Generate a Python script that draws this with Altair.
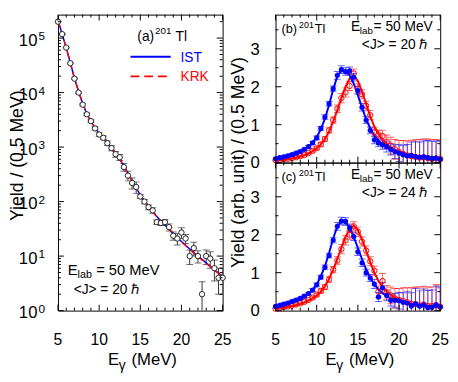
import altair as alt
import pandas as pd

FONT = "Liberation Sans"

E = [5.0, 5.5, 6.0, 6.5, 7.0, 7.5, 8.0, 8.5, 9.0, 9.5, 10.0, 10.5, 11.0, 11.5,
     12.0, 12.5, 13.0, 13.5, 14.0, 14.5, 15.0, 15.5, 16.0, 16.5, 17.0, 17.5,
     18.0, 18.5, 19.0, 19.5, 20.0, 20.5, 21.0, 21.5, 22.0, 22.5, 23.0, 23.5,
     24.0, 24.5, 25.0]

# ---- panel (a): spectrum, log scale
yield_a = [2.0e5, 1.18e5, 6.7e4, 3.45e4, 1.8e4, 1.0e4, 6.0e3, 4.0e3, 3.0e3, 2.2e3,
           1.7e3, 1.48e3, 1.18e3, 960, 740, 650, 430, 300, 220, 185,
           124, 100, 79, 69, 42, 40.5, 42, 34, 23.6, 21,
           27, 21, 10, 14, 10, 2.0, 10, 9, 6, 4, 4]
err_a = [2000, 1500, 1000, 700, 500, 350, 250, 200, 170, 150,
         130, 120, 110, 100, 90, 80, 70, 60, 50, 45,
         10, 9, 8, 8, 4, 4, 5, 5, 4, 5,
         6, 4, 3, 4, 2.5, 1.4, 3, 3, 2.5, 2, 2]
fit_ist_a = [2.1e5, 1.2e5, 6.6e4, 3.5e4, 1.85e4, 1.05e4, 6.3e3, 4.1e3, 2.95e3, 2.25e3,
             1.8e3, 1.48e3, 1.2e3, 970, 770, 600, 450, 330, 240, 178,
             132, 102, 81, 65, 53, 44, 37, 31, 26, 22,
             18.5, 15.8, 13.5, 11.6, 10.0, 8.7, 7.5, 6.5, 5.6, 4.9, 4.3]
fit_krk_a = [2.1e5, 1.2e5, 6.6e4, 3.5e4, 1.85e4, 1.05e4, 6.3e3, 4.1e3, 2.95e3, 2.25e3,
             1.8e3, 1.47e3, 1.2e3, 965, 765, 600, 452, 332, 242, 180,
             133, 103, 82, 66, 53, 44, 37, 31, 26, 21.8,
             18.3, 15.6, 13.3, 11.4, 9.8, 8.5, 7.4, 6.4, 5.5, 4.8, 4.2]

# ---- panel (b): <J> = 20
ist_b = [0.10, 0.13, 0.15, 0.18, 0.21, 0.25, 0.29, 0.35, 0.42,
         0.52, 0.65, 0.90, 1.20, 1.55, 1.95,
         2.30, 2.45, 2.40, 2.42, 2.25,
         1.90, 1.46, 1.12, 0.85,
         0.60, 0.52, 0.47, 0.42,
         0.35, 0.29, 0.25, 0.21,
         0.18, 0.19, 0.16, 0.14, 0.15, 0.13, 0.11, 0.12, 0.09]
ist_b_err = [0.03, 0.03, 0.03, 0.03, 0.03, 0.03, 0.03, 0.03, 0.03,
             0.04, 0.05, 0.05, 0.06, 0.06, 0.07,
             0.10, 0.10, 0.10, 0.10, 0.10,
             0.10, 0.10, 0.09, 0.09,
             0.10, 0.10, 0.12, 0.14,
             0.15, 0.18, 0.22, 0.25,
             0.30, 0.35, 0.40, 0.40, 0.42, 0.45, 0.45, 0.45, 0.48]
krk_b = [0.06, 0.07, 0.09, 0.10, 0.12, 0.14, 0.17, 0.20, 0.25,
         0.31, 0.38, 0.48, 0.62, 0.85, 1.12,
         1.42, 1.70, 1.85, 2.02, 2.35,
         1.95, 1.80, 1.50, 1.25,
         0.80, 0.74, 0.70, 0.55,
         0.45, 0.35, 0.28, 0.23,
         0.19, 0.17, 0.15, 0.13, 0.14, 0.12, 0.10, 0.11, 0.09]
krk_b_err = [0.02, 0.02, 0.02, 0.02, 0.02, 0.02, 0.02, 0.02, 0.02,
             0.03, 0.04, 0.05, 0.06, 0.07, 0.08,
             0.10, 0.12, 0.12, 0.12, 0.12,
             0.12, 0.12, 0.12, 0.12,
             0.12, 0.12, 0.15, 0.18,
             0.22, 0.26, 0.30, 0.35,
             0.38, 0.42, 0.45, 0.48, 0.48, 0.50, 0.50, 0.50, 0.50]
fit_ist_b = [0.10, 0.12, 0.14, 0.17, 0.20, 0.24, 0.29, 0.35, 0.43,
             0.53, 0.67, 0.88, 1.16, 1.52, 1.93,
             2.28, 2.44, 2.41, 2.30, 2.08,
             1.78, 1.45, 1.15, 0.90,
             0.71, 0.58, 0.48, 0.40,
             0.34, 0.29, 0.25, 0.22,
             0.19, 0.17, 0.15, 0.14, 0.13, 0.12, 0.11, 0.10, 0.09]
fit_krk_b = [0.05, 0.06, 0.08, 0.09, 0.11, 0.13, 0.16, 0.19, 0.24,
             0.30, 0.38, 0.48, 0.62, 0.82, 1.08,
             1.38, 1.70, 2.00, 2.22, 2.30,
             2.15, 1.88, 1.55, 1.22,
             0.95, 0.76, 0.60, 0.49,
             0.40, 0.33, 0.28, 0.24,
             0.21, 0.18, 0.16, 0.14, 0.13, 0.12, 0.11, 0.10, 0.09]

# ---- panel (c): <J> = 24
ist_c = [0.11, 0.14, 0.17, 0.20, 0.24, 0.28, 0.32, 0.38, 0.45,
         0.54, 0.68, 0.88, 1.14, 1.45, 1.86,
         2.22, 2.36, 2.35, 2.18, 1.95,
         1.55, 1.26, 1.00, 0.86,
         0.70, 0.36, 0.60, 0.40,
         0.27, 0.27, 0.26, 0.22,
         0.20, 0.12, 0.18, 0.12, 0.15, 0.08, 0.09, 0.15, 0.10]
ist_c_err = [0.03, 0.03, 0.03, 0.03, 0.03, 0.03, 0.03, 0.03, 0.03,
             0.04, 0.05, 0.05, 0.06, 0.06, 0.07,
             0.10, 0.10, 0.10, 0.10, 0.10,
             0.10, 0.10, 0.09, 0.09,
             0.12, 0.12, 0.14, 0.14,
             0.15, 0.18, 0.22, 0.25,
             0.30, 0.35, 0.40, 0.40, 0.42, 0.45, 0.45, 0.50, 0.50]
krk_c = [0.05, 0.07, 0.09, 0.11, 0.13, 0.16, 0.19, 0.23, 0.28,
         0.34, 0.42, 0.52, 0.62, 0.82, 1.08,
         1.32, 1.62, 1.85, 2.00, 2.22,
         2.08, 1.82, 1.58, 1.30,
         1.05, 0.50, 0.78, 0.48,
         0.40, 0.32, 0.28, 0.25,
         0.22, 0.18, 0.17, 0.14, 0.16, 0.12, 0.12, 0.14, 0.10]
krk_c_err = [0.02, 0.02, 0.02, 0.02, 0.02, 0.02, 0.02, 0.02, 0.02,
             0.03, 0.04, 0.05, 0.06, 0.07, 0.08,
             0.10, 0.12, 0.12, 0.12, 0.12,
             0.12, 0.12, 0.12, 0.12,
             0.12, 0.15, 0.20, 0.18,
             0.22, 0.26, 0.30, 0.35,
             0.38, 0.42, 0.45, 0.48, 0.48, 0.50, 0.50, 0.55, 0.55]
fit_ist_c = [0.11, 0.13, 0.16, 0.19, 0.22, 0.26, 0.31, 0.37, 0.45,
             0.55, 0.69, 0.90, 1.17, 1.52, 1.90,
             2.22, 2.36, 2.33, 2.18, 1.94,
             1.65, 1.36, 1.09, 0.87,
             0.69, 0.56, 0.46, 0.38,
             0.32, 0.28, 0.24, 0.21,
             0.19, 0.17, 0.15, 0.14, 0.13, 0.12, 0.11, 0.10, 0.10]
fit_krk_c = [0.05, 0.06, 0.08, 0.10, 0.12, 0.14, 0.17, 0.21, 0.26,
             0.32, 0.40, 0.50, 0.64, 0.84, 1.08,
             1.36, 1.66, 1.94, 2.15, 2.24,
             2.12, 1.88, 1.58, 1.28,
             1.00, 0.78, 0.62, 0.50,
             0.41, 0.34, 0.29, 0.25,
             0.22, 0.19, 0.17, 0.15, 0.14, 0.13, 0.12, 0.11, 0.10]

# ---- ticks and labels
x_major = [5, 10, 15, 20, 25]
x_minor = [6, 7, 8, 9, 11, 12, 13, 14, 16, 17, 18, 19, 21, 22, 23, 24]
x_labels = ["5", "10", "15", "20", "25"]
a_decades = [1, 10, 100, 1000, 10000, 100000]
a_exponents = ["0", "1", "2", "3", "4", "5"]
a_top = 10 ** 5.43
a_minor = [m * d for d in a_decades for m in [2, 3, 4, 5, 6, 7, 8, 9] if m * d < a_top]
bc_major = [0, 1, 2, 3]
bc_labels = ["0", "1", "2", "3"]
bc_minor = [0.5, 1.5, 2.5, 3.5]

BLUE = "#0000ff"
RED = "#ff0000"
W = 168
HA = 302
HB = 151

xs = alt.Scale(domain=[5, 25], nice=False, zero=False)
ya = alt.Scale(type="log", domain=[1, a_top], nice=False)
yb = alt.Scale(domain=[0, 3.9], nice=False, zero=False)


def X(f):
    return alt.X(f, type="quantitative", scale=xs, axis=None)


def Y(f, sc):
    return alt.Y(f, type="quantitative", scale=sc, axis=None)


def txt(x, y, s, size=14, color="black", align="left", baseline="alphabetic", angle=0):
    return alt.Chart(pd.DataFrame({"t": [s]})).mark_text(
        align=align, baseline=baseline, fontSize=size, font=FONT, color=color, angle=angle
    ).encode(x=alt.value(x), y=alt.value(y), text="t:N")


def tick_layers(h, ysc, y_major, y_minor):
    out = []
    for vals, L in [(x_major, 6), (x_minor, 3)]:
        b = alt.Chart(pd.DataFrame({"v": vals}))
        out.append(b.mark_rule(color="black", strokeWidth=1).encode(
            x=X("v"), y=alt.value(h), y2=alt.value(h - L)))
        out.append(b.mark_rule(color="black", strokeWidth=1).encode(
            x=X("v"), y=alt.value(0), y2=alt.value(L)))
    for vals, L in [(y_major, 6), (y_minor, 3)]:
        b = alt.Chart(pd.DataFrame({"v": vals}))
        out.append(b.mark_rule(color="black", strokeWidth=1).encode(
            y=Y("v", ysc), x=alt.value(0), x2=alt.value(L)))
        out.append(b.mark_rule(color="black", strokeWidth=1).encode(
            y=Y("v", ysc), x=alt.value(W), x2=alt.value(W - L)))
    return out


def x_tick_labels(h):
    d = pd.DataFrame({"v": x_major, "t": x_labels})
    return alt.Chart(d).mark_text(fontSize=16, font=FONT, align="center", baseline="alphabetic").encode(
        x=X("v"), y=alt.value(h + 35), text="t:N")


def x_title(h):
    return [txt(51, h + 56, "E", 17), txt(62, h + 61, "γ", 14), txt(75, h + 56, "(MeV)", 17)]


# ---------------- panel (a)
df_a = pd.DataFrame({"E": E, "Y": yield_a, "err": err_a})
df_a["lo"] = [max(v - e, 0.3) for v, e in zip(yield_a, err_a)]
df_a["hi"] = [v + e for v, e in zip(yield_a, err_a)]
fa = pd.DataFrame({"E": E, "ist": fit_ist_a, "krk": fit_krk_a})
base_a = alt.Chart(df_a)

layers_a = [
    base_a.mark_rule(color="#333333", strokeWidth=1, clip=True).encode(x=X("E"), y=Y("lo", ya), y2="hi:Q"),
    base_a.mark_tick(color="#333333", orient="horizontal", size=7, thickness=1, clip=True).encode(x=X("E"), y=Y("hi", ya)),
    base_a.mark_tick(color="#333333", orient="horizontal", size=7, thickness=1, clip=True).encode(x=X("E"), y=Y("lo", ya)),
    alt.Chart(fa).mark_line(color=BLUE, strokeWidth=1.5, clip=True).encode(x=X("E"), y=Y("ist", ya)),
    alt.Chart(fa).mark_line(color=RED, strokeWidth=1.5, strokeDash=[7, 4], clip=True).encode(x=X("E"), y=Y("krk", ya)),
    base_a.mark_point(shape="circle", filled=True, fill="white", stroke="#222222", strokeWidth=1,
                      size=30, opacity=1).encode(x=X("E"), y=Y("Y", ya)),
]
layers_a += tick_layers(HA, ya, a_decades, a_minor)
dl = pd.DataFrame({"v": a_decades, "e": a_exponents, "t": ["10"] * 6})
layers_a.append(alt.Chart(dl).mark_text(fontSize=17, font=FONT, align="right", baseline="alphabetic", dy=8).encode(
    x=alt.value(-21), y=Y("v", ya), text="t:N"))
layers_a.append(alt.Chart(dl).mark_text(fontSize=12, font=FONT, align="left", baseline="alphabetic", dy=2).encode(
    x=alt.value(-20), y=Y("v", ya), text="e:N"))
layers_a.append(x_tick_labels(HA))
layers_a += x_title(HA)
layers_a += [
    txt(-41, 144, "Yield / (0.5 MeV)", 18, angle=270, align="center", baseline="middle"),
    txt(81, 27, "(a)", 14), txt(99, 20, "201", 10), txt(120, 27, "Tl", 14),
    alt.Chart(pd.DataFrame({"t": ["IST"]})).mark_rule(color=BLUE, strokeWidth=2).encode(
        x=alt.value(74), x2=alt.value(115), y=alt.value(43)),
    alt.Chart(pd.DataFrame({"t": ["KRK"]})).mark_rule(color=RED, strokeWidth=2, strokeDash=[9, 5]).encode(
        x=alt.value(74), x2=alt.value(115), y=alt.value(63)),
    txt(125, 48.5, "IST", 14, BLUE), txt(125, 68, "KRK", 14, RED),
    txt(10, 265.7, "E", 15), txt(20, 269, "lab", 11), txt(39, 265.7, "= 50 MeV", 15),
    txt(16, 285, "<J> = 20 ℏ", 14),
]
pa = alt.layer(*layers_a).properties(width=W, height=HA)


# ---------------- panels (b), (c)
def gdr_panel(ist, ist_err, krk, krk_err, fit_ist, fit_krk, tag, jval, xlabels):
    d = pd.DataFrame({"E": E, "ist": ist, "krk": krk})
    d["ist_lo"] = [v - e for v, e in zip(ist, ist_err)]
    d["ist_hi"] = [v + e for v, e in zip(ist, ist_err)]
    d["krk_lo"] = [v - e for v, e in zip(krk, krk_err)]
    d["krk_hi"] = [v + e for v, e in zip(krk, krk_err)]
    f = pd.DataFrame({"E": E, "ist": fit_ist, "krk": fit_krk})
    b = alt.Chart(d)
    L = []
    for col, c in [("krk", RED), ("ist", BLUE)]:
        L.append(b.mark_rule(color=c, strokeWidth=1, opacity=0.6, clip=True).encode(
            x=X("E"), y=Y(col + "_lo", yb), y2=col + "_hi:Q"))
        L.append(b.mark_tick(color=c, orient="horizontal", size=7, thickness=1, opacity=0.6, clip=True).encode(
            x=X("E"), y=Y(col + "_hi", yb)))
        L.append(b.mark_tick(color=c, orient="horizontal", size=7, thickness=1, opacity=0.6, clip=True).encode(
            x=X("E"), y=Y(col + "_lo", yb)))
    L.append(alt.Chart(f).mark_line(color=RED, strokeWidth=2, clip=True).encode(x=X("E"), y=Y("krk", yb)))
    L.append(alt.Chart(f).mark_line(color=BLUE, strokeWidth=2, clip=True).encode(x=X("E"), y=Y("ist", yb)))
    L.append(b.mark_point(shape="circle", filled=False, color=RED, strokeWidth=1, size=30, opacity=1).encode(
        x=X("E"), y=Y("krk", yb)))
    L.append(b.mark_point(shape="circle", filled=True, color=BLUE, size=28, opacity=1).encode(
        x=X("E"), y=Y("ist", yb)))
    L += tick_layers(HB, yb, bc_major, bc_minor)
    dl2 = pd.DataFrame({"v": bc_major, "t": bc_labels})
    L.append(alt.Chart(dl2).mark_text(fontSize=17, font=FONT, align="right", baseline="alphabetic", dy=6).encode(
        x=alt.value(-16), y=Y("v", yb), text="t:N"))
    L += [txt(6, 19, "(" + tag + ")", 13), txt(24, 14, "201", 9), txt(40, 19, "Tl", 13),
          txt(77, 17, "E", 14), txt(86, 20, "lab", 10), txt(100, 17, "= 50 MeV", 14),
          txt(155, 35, "<J> = " + jval + " ℏ", 14, align="right")]
    if xlabels:
        L.append(x_tick_labels(HB))
        L += x_title(HB)
        L.append(txt(-37, 0, "Yield (arb. unit) / (0.5 MeV)", 18, angle=270, align="center",
                     baseline="middle"))
    return alt.layer(*L).properties(width=W, height=HB)


pb = gdr_panel(ist_b, ist_b_err, krk_b, krk_b_err, fit_ist_b, fit_krk_b, "b", "20", False)
pc = gdr_panel(ist_c, ist_c_err, krk_c, krk_c_err, fit_ist_c, fit_krk_c, "c", "24", True)

right = alt.vconcat(pb, pc, spacing=0, bounds="flush")
chart = alt.hconcat(pa, right, spacing=54, bounds="flush").properties(
    padding={"left": 0, "top": 2, "right": 0, "bottom": 0}
).configure_view(stroke="black", strokeWidth=1)

chart.save("out.html", embed_options={"renderer": "svg", "actions": False})
